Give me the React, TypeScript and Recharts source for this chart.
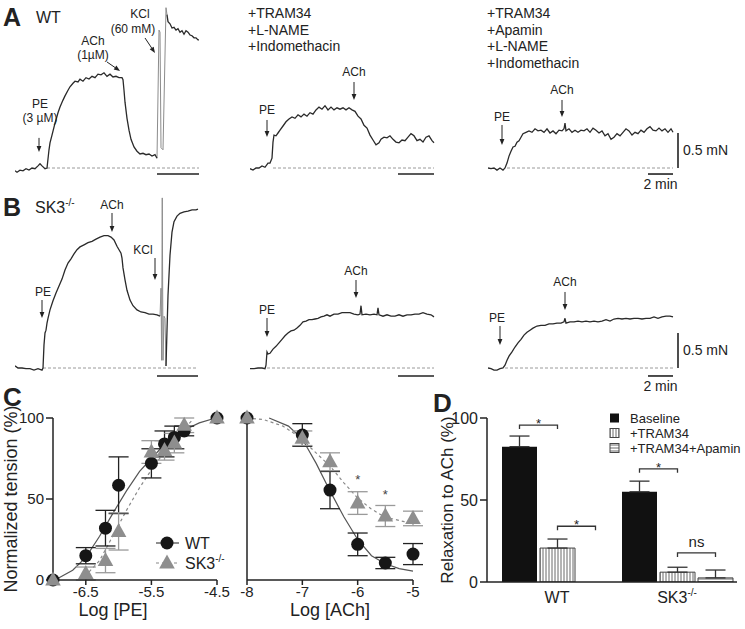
import React from "react";
import {
  LineChart,
  Line,
  XAxis,
  YAxis,
  ReferenceLine,
  ReferenceDot,
  ComposedChart,
  Scatter,
  ErrorBar,
  BarChart,
  Bar,
  LabelList,
} from "recharts";

const FONT = '"Liberation Sans", Arial, Helvetica, sans-serif';
const INK = "#222";
const MIN_PER_PX = 0.08; // trace time scale: 2 min = 25 px

// ---------- A / B: tension traces (time in min, tension above baseline in mN)
const a1T = [0, 0.16, 0.4, 0.64, 0.88, 1.12, 1.36, 1.6, 1.84, 2.0, 2.16, 2.4, 2.56, 2.72, 2.8, 2.96, 3.2, 3.44, 3.6, 3.84, 4.0, 4.24, 4.4, 4.64, 4.8, 5.04, 5.2, 5.44, 5.68, 5.92, 6.16, 6.4, 6.64, 6.88, 7.12, 7.36, 7.6, 7.84, 8.08, 8.32, 8.56, 8.64, 8.72, 8.8, 8.96, 9.12, 9.28, 9.52, 9.76, 10.0, 10.24, 10.48, 10.72, 10.96, 11.2, 11.36, 11.4, 12.16, 12.24, 12.4, 12.56, 12.72, 12.88, 13.04, 13.2, 13.36, 13.52, 13.68, 13.84, 14.0, 14.16, 14.32, 14.48, 14.64, 14.72];
const a1V = [-0.04, -0.06, -0.03, -0.04, -0.01, -0.03, 0, -0.01, 0.03, 0.06, 0.03, -0.01, 0, 0.26, 0.36, 0.47, 0.64, 0.79, 0.87, 0.97, 1.03, 1.11, 1.16, 1.21, 1.24, 1.23, 1.27, 1.24, 1.29, 1.27, 1.31, 1.29, 1.34, 1.33, 1.36, 1.31, 1.34, 1.3, 1.31, 1.29, 1.29, 1.26, 1.11, 0.94, 0.71, 0.54, 0.41, 0.3, 0.24, 0.2, 0.21, 0.19, 0.2, 0.17, 0.19, 0.14, null, 2.19, 2.09, 2.06, 2.0, 2.01, 1.97, 1.99, 1.94, 1.96, 1.91, 1.96, 1.94, 1.9, 1.89, 1.86, 1.86, 1.83, 1.83];
const a1SpikeT = [11.36, 11.52, 11.6, 11.68, 11.84, 12.08, 12.16];
const a1SpikeV = [0.14, 1.97, 1.94, 0.29, 0.26, 2.29, 2.19];

const a2T = [0, 0.24, 0.48, 0.72, 0.96, 1.2, 1.44, 1.6, 1.76, 1.84, 1.92, 2.08, 2.24, 2.4, 2.64, 2.88, 3.12, 3.36, 3.6, 3.84, 4.08, 4.32, 4.56, 4.8, 5.04, 5.28, 5.52, 5.76, 6.0, 6.24, 6.48, 6.72, 6.96, 7.2, 7.44, 7.68, 7.92, 8.16, 8.4, 8.64, 8.88, 9.12, 9.36, 9.6, 9.84, 10.08, 10.32, 10.48, 10.72, 10.96, 11.2, 11.44, 11.68, 11.92, 12.16, 12.4, 12.64, 12.88, 13.12, 13.36, 13.6, 13.84, 14.08, 14.32, 14.56, 14.72];
const a2V = [-0.01, -0.03, 0, 0, 0.03, 0.01, 0.07, 0.07, 0.14, 0.37, 0.47, 0.46, 0.5, 0.54, 0.6, 0.66, 0.7, 0.73, 0.71, 0.76, 0.73, 0.77, 0.74, 0.79, 0.77, 0.83, 0.87, 0.84, 0.89, 0.83, 0.87, 0.83, 0.86, 0.84, 0.86, 0.83, 0.86, 0.83, 0.81, 0.74, 0.7, 0.61, 0.57, 0.47, 0.4, 0.33, 0.36, 0.41, 0.44, 0.43, 0.46, 0.41, 0.37, 0.36, 0.4, 0.39, 0.44, 0.49, 0.46, 0.39, 0.41, 0.37, 0.44, 0.46, 0.39, 0.36];

const a3T = [0, 0.24, 0.48, 0.72, 0.96, 1.2, 1.36, 1.52, 1.68, 1.84, 2.0, 2.16, 2.32, 2.48, 2.64, 2.8, 3.04, 3.28, 3.52, 3.76, 4.0, 4.24, 4.48, 4.72, 4.96, 5.2, 5.44, 5.68, 5.92, 6.08, 6.16, 6.24, 6.48, 6.72, 6.96, 7.2, 7.44, 7.68, 7.92, 8.16, 8.4, 8.64, 8.88, 9.12, 9.36, 9.6, 9.84, 10.08, 10.32, 10.56, 10.8, 11.04, 11.28, 11.52, 11.76, 12.0, 12.24, 12.48, 12.72, 12.96, 13.2, 13.44, 13.68, 13.92, 14.16, 14.4, 14.64, 14.8];
const a3V = [0, -0.01, 0, -0.03, 0, -0.03, 0, 0.07, 0.17, 0.24, 0.3, 0.31, 0.37, 0.39, 0.44, 0.49, 0.51, 0.53, 0.51, 0.56, 0.53, 0.54, 0.51, 0.56, 0.5, 0.53, 0.49, 0.54, 0.53, 0.56, 0.64, 0.53, 0.56, 0.51, 0.54, 0.51, 0.54, 0.53, 0.56, 0.51, 0.57, 0.54, 0.5, 0.53, 0.46, 0.49, 0.41, 0.44, 0.49, 0.46, 0.51, 0.56, 0.53, 0.47, 0.51, 0.49, 0.54, 0.51, 0.56, 0.59, 0.54, 0.53, 0.57, 0.53, 0.56, 0.51, 0.56, 0.51];

const b1T = [0, 0.24, 0.56, 0.88, 1.2, 1.52, 1.84, 2.16, 2.24, 2.32, 2.4, 2.48, 2.56, 2.64, 2.8, 3.04, 3.28, 3.52, 3.76, 4.0, 4.24, 4.48, 4.72, 4.96, 5.2, 5.52, 5.84, 6.16, 6.48, 6.8, 7.12, 7.44, 7.68, 7.92, 8.16, 8.32, 8.48, 8.56, 8.64, 8.8, 8.96, 9.2, 9.44, 9.76, 10.08, 10.4, 10.72, 11.04, 11.36, 11.6, 11.9, 12.08, 12.16, 12.24, 12.4, 12.56, 12.72, 12.96, 13.2, 13.52, 13.84, 14.16, 14.48, 14.64];
const b1V = [0.03, 0, 0, -0.01, -0.01, -0.03, -0.01, -0.03, 0, 0.33, 0.5, 0.54, 0.64, 0.71, 0.83, 0.96, 1.07, 1.17, 1.27, 1.4, 1.5, 1.56, 1.63, 1.69, 1.73, 1.76, 1.79, 1.81, 1.84, 1.87, 1.89, 1.89, 1.87, 1.83, 1.74, 1.69, 1.64, 1.57, 1.43, 1.26, 1.11, 0.97, 0.89, 0.83, 0.8, 0.79, 0.77, 0.77, 0.76, 0.74, null, 0.03, 0.54, 1.04, 1.61, 1.94, 2.09, 2.17, 2.21, 2.23, 2.24, 2.26, 2.26, 2.27];
const b1SpikeT = [11.6, 11.68, 11.73, 11.78, 11.84, 11.92, 12.0, 12.08];
const b1SpikeV = [0.74, 1.14, 0.11, 2.43, 0.11, 0.74, 0.71, 0.03];

const b2T = [0, 0.32, 0.64, 0.96, 1.2, 1.28, 1.36, 1.44, 1.6, 1.84, 2.08, 2.32, 2.56, 2.8, 3.04, 3.28, 3.52, 3.76, 4.0, 4.24, 4.48, 4.72, 4.96, 5.2, 5.44, 5.68, 5.92, 6.16, 6.4, 6.72, 7.04, 7.36, 7.68, 8.0, 8.32, 8.64, 8.8, 8.88, 8.96, 9.28, 9.6, 9.92, 10.16, 10.24, 10.32, 10.64, 10.96, 11.28, 11.6, 11.92, 12.24, 12.56, 12.88, 13.2, 13.52, 13.84, 14.16, 14.48, 14.72];
const b2V = [-0.01, -0.01, 0, 0, -0.01, 0.04, 0.23, 0.2, 0.21, 0.27, 0.31, 0.36, 0.41, 0.46, 0.5, 0.53, 0.54, 0.57, 0.61, 0.66, 0.67, 0.69, 0.69, 0.7, 0.71, 0.73, 0.74, 0.76, 0.74, 0.77, 0.77, 0.79, 0.79, 0.79, 0.77, 0.76, 0.77, 0.89, 0.76, 0.77, 0.76, 0.77, 0.76, 0.86, 0.76, 0.74, 0.76, 0.74, 0.74, 0.76, 0.74, 0.76, 0.76, 0.77, 0.77, 0.79, 0.77, 0.76, 0.73];

const b3T = [0, 0.24, 0.48, 0.72, 0.96, 1.2, 1.36, 1.52, 1.68, 1.92, 2.16, 2.4, 2.64, 2.88, 3.12, 3.36, 3.6, 3.92, 4.24, 4.56, 4.88, 5.2, 5.52, 5.84, 6.08, 6.16, 6.24, 6.56, 6.88, 7.2, 7.52, 7.84, 8.16, 8.48, 8.8, 9.12, 9.44, 9.76, 10.08, 10.4, 10.72, 11.04, 11.36, 11.68, 12.0, 12.32, 12.64, 12.96, 13.28, 13.6, 13.92, 14.24, 14.56, 14.8];
const b3V = [0, -0.01, -0.03, -0.03, -0.01, 0, 0.04, 0.11, 0.17, 0.23, 0.3, 0.36, 0.41, 0.47, 0.51, 0.54, 0.57, 0.6, 0.61, 0.61, 0.63, 0.63, 0.64, 0.64, 0.66, 0.71, 0.64, 0.66, 0.66, 0.67, 0.66, 0.67, 0.66, 0.67, 0.66, 0.67, 0.69, 0.67, 0.7, 0.71, 0.7, 0.71, 0.7, 0.71, 0.71, 0.7, 0.71, 0.71, 0.73, 0.71, 0.73, 0.74, 0.74, 0.73];

// ---------- C: concentration-response (log M, % tension)
const peLog = [-7, -6.5, -6.2, -6, -5.5, -5.3, -5.15, -5, -4.5];
const peWT = [0, 15, 32, 58.5, 72, 84, 88, 92, 100];
const peWTerr = [0, 5, 11, 17.5, 9, 8, 7, 3, 0];
const peSK3 = [0, 4, 12, 30, 79, 80, 84.5, 95.5, 100];
const peSK3err = [0, 4, 7.5, 11.5, 7, 6, 6, 4.5, 0];
const peFitWTx = [-6.97, -6.7, -6.5, -6.29, -6.09, -5.88, -5.68, -5.5, -5.27, -5.03, -4.77, -4.52];
const peFitWTy = [0, 6, 14, 27, 41, 55, 67, 75, 85, 92, 97, 100];
const peFitSK3x = [-6.45, -6.29, -6.09, -5.88, -5.68, -5.5, -5.32, -5.12, -4.87];
const peFitSK3y = [5, 12, 27, 43, 57, 68, 78, 88, 99];

const achLog = [-8, -7, -6.5, -6, -5.5, -5];
const achWT = [100, 89.5, 55.5, 22, 10.5, 16];
const achWTerr = [0, 7, 11.5, 7, 3.5, 6.5];
const achSK3 = [100, 87.5, 73, 47.5, 39.5, 38];
const achSK3err = [0, 4.5, 5.5, 7, 6.5, 4.5];
const achFitWTx = [-7.6, -7.25, -7.0, -6.75, -6.5, -6.25, -6.0, -5.75, -5.5, -5.25, -5.0];
const achFitWTy = [100, 95, 87, 72, 55, 39, 25, 15, 10, 7, 5.5];
const achFitSK3x = [-8, -7.7, -7.35, -7.04, -6.8, -6.49, -6.25, -6.0, -5.76, -5.52, -5.16, -5.0];
const achFitSK3y = [100, 99, 95, 88, 80, 70, 60, 50.6, 44, 39, 36, 35.5];
const achStarX = [-6, -5.5];
const achStarY = [63, 53.7];

// ---------- D: relaxation to ACh (%)
const groups = ["WT", "SK3"];
const baseline = [82.5, 55];
const baselineErr = [6.5, 6.5];
const tram34 = [20.7, 6];
const tram34Err = [5.5, 3];
const tramApamin = [0, 2.5];
const tramApaminErr = [5, 4.8];
const sigGroup = ["WT", "WT", "SK3", "SK3"];
const sigFrom = ["baseline", "tram", "baseline", "tram"];
const sigLevel = [95.7, 34, 69, 17.7];
const sigText = ["*", "*", "*", "ns"];

type Pt = { t: number; v: number | null };
const pts = (t: number[], v: (number | null)[]): Pt[] => t.map((x, i) => ({ t: x, v: v[i] }));
const xy = (x: number[], y: number[], e?: number[]) => x.map((v, i) => ({ x: v, y: y[i], err: e ? e[i] : 0 }));

type Note = { t: number; v: number; ax: number; ay: number; lines: [string, number, number][] };

const arrow = (n: Note) => (p: any) => {
  const { cx, cy } = p;
  const len = Math.hypot(n.ax, n.ay);
  const ux = -n.ax / len;
  const uy = -n.ay / len;
  const hx = cx - ux * 6;
  const hy = cy - uy * 6;
  const nx = -uy * 2.4;
  const ny = ux * 2.4;
  return (
    <g>
      <line x1={cx + n.ax} y1={cy + n.ay} x2={hx} y2={hy} stroke={INK} strokeWidth={1} />
      <path d={`M${cx},${cy}L${hx + nx},${hy + ny}L${hx - nx},${hy - ny}Z`} fill={INK} />
      {n.lines.map(([s, dx, dy]) => (
        <text key={s} x={cx + dx} y={cy + dy} textAnchor="middle" fontSize={12} fill={INK}>
          {s}
        </text>
      ))}
    </g>
  );
};

function Trace(props: any) {
  const { left, top, width, height, yDomain, main, spike, base, bar, vbar, notes } = props;
  return (
    <div style={{ position: "absolute", left, top }}>
      <LineChart width={width} height={height} margin={{ top: 0, right: 0, bottom: 0, left: 0 }}>
        <XAxis type="number" dataKey="t" domain={[0, width * MIN_PER_PX]} hide allowDataOverflow />
        <YAxis type="number" dataKey="v" domain={yDomain} hide allowDataOverflow />
        <ReferenceLine
          segment={[{ x: base[0], y: 0 }, { x: base[1], y: 0 }]}
          stroke="#9a9a9a"
          strokeDasharray="3 2"
        />
        <ReferenceLine
          segment={[{ x: bar[0], y: bar[2] }, { x: bar[1], y: bar[2] }]}
          stroke={INK}
          strokeWidth={1.6}
          label={vbar !== undefined ? { value: "2 min", position: "bottom", offset: 5, fontSize: 14, fill: INK } : undefined}
        />
        {vbar !== undefined && (
          <ReferenceLine
            segment={[{ x: vbar, y: 0 }, { x: vbar, y: 0.5 }]}
            stroke={INK}
            strokeWidth={1.6}
            label={{ value: "0.5 mN", position: "right", offset: 5, fontSize: 14, fill: INK }}
          />
        )}
        {spike && (
          <Line data={spike} dataKey="v" stroke="#8c8c8c" strokeWidth={1} dot={false} isAnimationActive={false} />
        )}
        <Line data={main} dataKey="v" stroke="#2a2a2a" strokeWidth={1.3} dot={false} isAnimationActive={false} />
        {notes.map((n: Note, i: number) => (
          <ReferenceDot key={i} x={n.t} y={n.v} r={0} shape={arrow(n)} />
        ))}
      </LineChart>
    </div>
  );
}

const dotShape = (p: any) => <circle cx={p.cx} cy={p.cy} r={6.5} fill="#161616" />;
const triShape = (p: any) => (
  <path d={`M${p.cx},${p.cy - 8.5}L${p.cx + 7.8},${p.cy + 5.5}L${p.cx - 7.8},${p.cy + 5.5}Z`} fill="#8e8e8e" />
);
const starShape = (p: any) => (
  <text x={p.cx} y={p.cy + 6} textAnchor="middle" fontSize={13} fill="#444">
    *
  </text>
);

const axisStyle = { stroke: INK, strokeWidth: 1.5 };

const dRows = groups.map((g, i) => ({
  group: g,
  baseline: baseline[i],
  baselineErr: [0, baselineErr[i]],
  tram: tram34[i],
  tramErr: [0, tram34Err[i]],
  apamin: tramApamin[i],
  apaminErr: [0, tramApaminErr[i]],
}));

const BAR_GAP = 3;

const bracket = (series: string) => (props: any) => {
  const vb = props.viewBox ?? props;
  const group = props.value;
  const k = sigGroup.findIndex((g, i) => g === group && sigFrom[i] === series);
  if (k < 0 || !vb) return null;
  const row: any = dRows.find((r) => r.group === group);
  const val = row[series];
  const { x, y, width, height } = vb;
  const bottom = y + height;
  const yb = bottom - (sigLevel[k] / val) * height;
  const x1 = x + width / 2;
  const x2 = x + width * 1.5 + BAR_GAP;
  const star = sigText[k] === "*";
  return (
    <g>
      <path d={`M${x1},${yb + 4}L${x1},${yb}L${x2},${yb}L${x2},${yb + 4}`} fill="none" stroke="#333" strokeWidth={1.3} />
      <text
        x={(x1 + x2) / 2}
        y={star ? yb + 3 : yb - 6}
        textAnchor="middle"
        fontSize={star ? 13 : 15}
        fill={INK}
      >
        {sigText[k]}
      </text>
    </g>
  );
};

const GroupTick = (p: any) => {
  const { x, y, payload } = p;
  const ko = payload.value === "SK3";
  return (
    <text x={x} y={y + 13} textAnchor="middle" fontSize={16} fill={INK}>
      {payload.value}
      {ko && (
        <tspan dy={-7} fontSize={10}>
          -/-
        </tspan>
      )}
    </text>
  );
};

export default function App() {
  const rowA = { top: 0, height: 196, yDomain: [-0.4, 2.4] };
  const rowB = { top: 186, height: 210, yDomain: [-0.4, 2.6] };

  return (
    <div
      style={{
        position: "absolute",
        left: 0,
        top: 0,
        width: 745,
        height: 629,
        background: "#fff",
        fontFamily: FONT,
        overflow: "hidden",
      }}
    >
      <svg width={745} height={629} style={{ position: "absolute", left: 0, top: 0 }}>
        <defs>
          <pattern id="vstripe" width="3" height="4" patternUnits="userSpaceOnUse">
            <rect width="3" height="4" fill="#fff" />
            <line x1="1" y1="0" x2="1" y2="4" stroke="#6a6a6a" strokeWidth="1" />
          </pattern>
          <pattern id="hstripe" width="4" height="3" patternUnits="userSpaceOnUse">
            <rect width="4" height="3" fill="#fff" />
            <line x1="0" y1="1" x2="4" y2="1" stroke="#6a6a6a" strokeWidth="1" />
          </pattern>
        </defs>
        <g fill={INK} fontFamily={FONT}>
          <text x={3} y={26} fontSize={25} fontWeight="bold">A</text>
          <text x={36} y={23} fontSize={16}>WT</text>
          {["+TRAM34", "+L-NAME", "+Indomethacin"].map((s, i) => (
            <text key={s} x={248} y={18 + i * 16.6} fontSize={14}>{s}</text>
          ))}
          {["+TRAM34", "+Apamin", "+L-NAME", "+Indomethacin"].map((s, i) => (
            <text key={s} x={487} y={18 + i * 16.6} fontSize={14}>{s}</text>
          ))}
          <text x={3} y={216} fontSize={25} fontWeight="bold">B</text>
          <text x={35} y={213} fontSize={16}>
            SK3<tspan dy={-7} fontSize={10}>-/-</tspan>
          </text>
          <text x={3} y={406} fontSize={26} fontWeight="bold">C</text>
          <text x={433} y={412} fontSize={26} fontWeight="bold">D</text>

          {/* C legend */}
          <line x1={156} y1={543} x2={179} y2={543} stroke="#444" strokeWidth={1.2} />
          <circle cx={167} cy={543} r={6.5} fill="#161616" />
          <text x={185} y={549} fontSize={16}>WT</text>
          <line x1={156} y1={563} x2={179} y2={563} stroke="#888" strokeWidth={1.2} strokeDasharray="3 3" />
          <path d="M167,554.5L174.8,568.5L159.2,568.5Z" fill="#8e8e8e" />
          <text x={185} y={569} fontSize={16}>
            SK3<tspan dy={-7} fontSize={10}>-/-</tspan>
          </text>

          {/* D legend */}
          <rect x={610} y={413.5} width={9} height={9} fill="#111" />
          <text x={630} y={422.5} fontSize={13}>Baseline</text>
          <rect x={610} y={428.5} width={9} height={9} fill="url(#vstripe)" stroke="#444" />
          <text x={630} y={437.5} fontSize={13}>+TRAM34</text>
          <rect x={610} y={443.5} width={9} height={9} fill="url(#hstripe)" stroke="#444" />
          <text x={630} y={452.5} fontSize={13}>+TRAM34+Apamin</text>
        </g>
      </svg>

      {/* Row A */}
      <Trace
        left={15}
        {...rowA}
        width={200}
        main={pts(a1T, a1V)}
        spike={pts(a1SpikeT, a1SpikeV)}
        base={[2.56, 14.72]}
        bar={[11.36, 14.72, -0.086]}
        notes={[
          { t: 1.92, v: 0.23, ax: 0, ay: -14, lines: [["PE", 1, -44], ["(3 µM)", 1, -30]] },
          { t: 8.4, v: 1.386, ax: -13, ay: -9, lines: [["ACh", -27, -26], ["(1µM)", -27, -12]] },
          { t: 11.2, v: 1.643, ax: -10, ay: -15, lines: [["KCl", -15, -35], ["(60 mM)", -22, -20]] },
        ]}
      />
      <Trace
        left={250}
        {...rowA}
        width={200}
        main={pts(a2T, a2V)}
        base={[1.84, 14.72]}
        bar={[11.84, 14.72, -0.086]}
        notes={[
          { t: 1.36, v: 0.443, ax: 0, ay: -17, lines: [["PE", 0, -23]] },
          { t: 8.32, v: 0.971, ax: 0, ay: -18, lines: [["ACh", 0, -24]] },
        ]}
      />
      <Trace
        left={488}
        {...rowA}
        width={257}
        main={pts(a3T, a3V)}
        base={[1.52, 14.8]}
        bar={[12.8, 14.8, -0.086]}
        vbar={15.2}
        notes={[
          { t: 1.12, v: 0.329, ax: 0, ay: -20, lines: [["PE", 0, -24]] },
          { t: 5.92, v: 0.729, ax: 0, ay: -17, lines: [["ACh", 0, -23]] },
        ]}
      />

      {/* Row B */}
      <Trace
        left={15}
        {...rowB}
        width={200}
        main={pts(b1T, b1V)}
        spike={pts(b1SpikeT, b1SpikeV)}
        base={[2.24, 14.64]}
        bar={[11.36, 14.64, -0.114]}
        notes={[
          { t: 2.16, v: 0.714, ax: 0, ay: -18, lines: [["PE", 1, -22]] },
          { t: 7.76, v: 1.943, ax: 0, ay: -19, lines: [["ACh", 0, -23]] },
          { t: 11.2, v: 1.257, ax: 0, ay: -22, lines: [["KCl", -12, -26]] },
        ]}
      />
      <Trace
        left={250}
        {...rowB}
        width={200}
        main={pts(b2T, b2V)}
        base={[1.36, 14.72]}
        bar={[11.84, 14.72, -0.114]}
        notes={[
          { t: 1.36, v: 0.443, ax: 0, ay: -19, lines: [["PE", 0, -23]] },
          { t: 8.48, v: 1.0, ax: 0, ay: -18, lines: [["ACh", 0, -23]] },
        ]}
      />
      <Trace
        left={488}
        {...rowB}
        width={257}
        main={pts(b3T, b3V)}
        base={[1.36, 14.8]}
        bar={[12.8, 14.8, -0.114]}
        vbar={15.2}
        notes={[
          { t: 0.96, v: 0.329, ax: 0, ay: -19, lines: [["PE", -3, -23]] },
          { t: 6.16, v: 0.829, ax: 0, ay: -18, lines: [["ACh", 0, -24]] },
        ]}
      />

      {/* C left: PE */}
      <div style={{ position: "absolute", left: 0, top: 400 }}>
        <ComposedChart width={240} height={220} margin={{ top: 18, right: 23, bottom: 0, left: 0 }}>
          <XAxis
            type="number"
            dataKey="x"
            domain={[-7, -4.5]}
            ticks={[-6.5, -5.5, -4.5]}
            height={40}
            tickSize={5}
            tickMargin={1}
            axisLine={axisStyle}
            tickLine={axisStyle}
            tick={{ fontSize: 15, fill: INK }}
            label={{ value: "Log [PE]", position: "insideBottom", offset: 4, dx: -22, fontSize: 18, fill: INK }}
          />
          <YAxis
            type="number"
            dataKey="y"
            domain={[0, 100]}
            ticks={[0, 50, 100]}
            width={53}
            tickSize={7}
            tickMargin={2}
            axisLine={axisStyle}
            tickLine={axisStyle}
            tick={{ fontSize: 15, fill: INK }}
            label={{
              value: "Normalized tension (%)",
              angle: -90,
              position: "insideLeft",
              offset: 11,
              fontSize: 18,
              fill: INK,
              style: { textAnchor: "middle" },
            }}
          />
          <Line data={xy(peFitWTx, peFitWTy)} dataKey="y" stroke="#555" strokeWidth={1.2} dot={false} isAnimationActive={false} />
          <Line data={xy(peFitSK3x, peFitSK3y)} dataKey="y" stroke="#8a8a8a" strokeWidth={1.2} strokeDasharray="3 3" dot={false} isAnimationActive={false} />
          <Scatter data={xy(peLog, peWT, peWTerr)} dataKey="y" shape={dotShape} isAnimationActive={false}>
            <ErrorBar dataKey="err" direction="y" width={10} stroke="#222" strokeWidth={1.3} />
          </Scatter>
          <Scatter data={xy(peLog, peSK3, peSK3err)} dataKey="y" shape={triShape} isAnimationActive={false}>
            <ErrorBar dataKey="err" direction="y" width={10} stroke="#9a9a9a" strokeWidth={1.3} />
          </Scatter>
        </ComposedChart>
      </div>

      {/* C right: ACh */}
      <div style={{ position: "absolute", left: 230, top: 400 }}>
        <ComposedChart width={200} height={220} margin={{ top: 18, right: 17, bottom: 0, left: 0 }}>
          <XAxis
            type="number"
            dataKey="x"
            domain={[-8, -5]}
            ticks={[-8, -7, -6, -5]}
            height={40}
            tickSize={5}
            tickMargin={1}
            axisLine={axisStyle}
            tickLine={axisStyle}
            tick={{ fontSize: 15, fill: INK }}
            label={{ value: "Log [ACh]", position: "insideBottom", offset: 4, fontSize: 18, fill: INK }}
          />
          <YAxis
            type="number"
            dataKey="y"
            domain={[0, 100]}
            ticks={[0, 50, 100]}
            width={17}
            tickSize={7}
            axisLine={axisStyle}
            tickLine={axisStyle}
            tick={false}
          />
          <Line data={xy(achFitWTx, achFitWTy)} dataKey="y" stroke="#555" strokeWidth={1.2} dot={false} isAnimationActive={false} />
          <Line data={xy(achFitSK3x, achFitSK3y)} dataKey="y" stroke="#8a8a8a" strokeWidth={1.2} strokeDasharray="3 3" dot={false} isAnimationActive={false} />
          <Scatter data={xy(achLog, achWT, achWTerr)} dataKey="y" shape={dotShape} isAnimationActive={false}>
            <ErrorBar dataKey="err" direction="y" width={10} stroke="#222" strokeWidth={1.3} />
          </Scatter>
          <Scatter data={xy(achLog, achSK3, achSK3err)} dataKey="y" shape={triShape} isAnimationActive={false}>
            <ErrorBar dataKey="err" direction="y" width={10} stroke="#9a9a9a" strokeWidth={1.3} />
          </Scatter>
          {achStarX.map((x, i) => (
            <ReferenceDot key={i} x={x} y={achStarY[i]} r={0} shape={starShape} />
          ))}
        </ComposedChart>
      </div>

      {/* D: bars */}
      <div style={{ position: "absolute", left: 425, top: 395 }}>
        <BarChart
          width={317}
          height={222}
          data={dRows}
          margin={{ top: 23, right: 5, bottom: 0, left: 0 }}
          barGap={BAR_GAP}
          barSize={35}
        >
          <XAxis
            dataKey="group"
            height={35}
            padding={{ left: 10, right: 0 }}
            axisLine={axisStyle}
            tickLine={false}
            tick={<GroupTick />}
          />
          <YAxis
            domain={[0, 100]}
            ticks={[0, 50, 100]}
            allowDataOverflow
            width={62}
            tickSize={7}
            tickMargin={2}
            axisLine={axisStyle}
            tickLine={axisStyle}
            tick={{ fontSize: 16, fill: INK }}
            label={{
              value: "Relaxation to ACh (%)",
              angle: -90,
              position: "insideLeft",
              offset: 22,
              fontSize: 17,
              fill: INK,
              style: { textAnchor: "middle" },
            }}
          />
          <Bar dataKey="baseline" fill="#111" isAnimationActive={false}>
            <ErrorBar dataKey="baselineErr" width={10} stroke="#333" strokeWidth={1.3} />
            <LabelList dataKey="group" content={bracket("baseline")} />
          </Bar>
          <Bar dataKey="tram" fill="url(#vstripe)" stroke="#444" strokeWidth={1} isAnimationActive={false}>
            <ErrorBar dataKey="tramErr" width={10} stroke="#333" strokeWidth={1.3} />
            <LabelList dataKey="group" content={bracket("tram")} />
          </Bar>
          <Bar dataKey="apamin" fill="url(#hstripe)" stroke="#444" strokeWidth={1} isAnimationActive={false}>
            <ErrorBar dataKey="apaminErr" width={10} stroke="#333" strokeWidth={1.3} />
          </Bar>
        </BarChart>
      </div>
    </div>
  );
}
